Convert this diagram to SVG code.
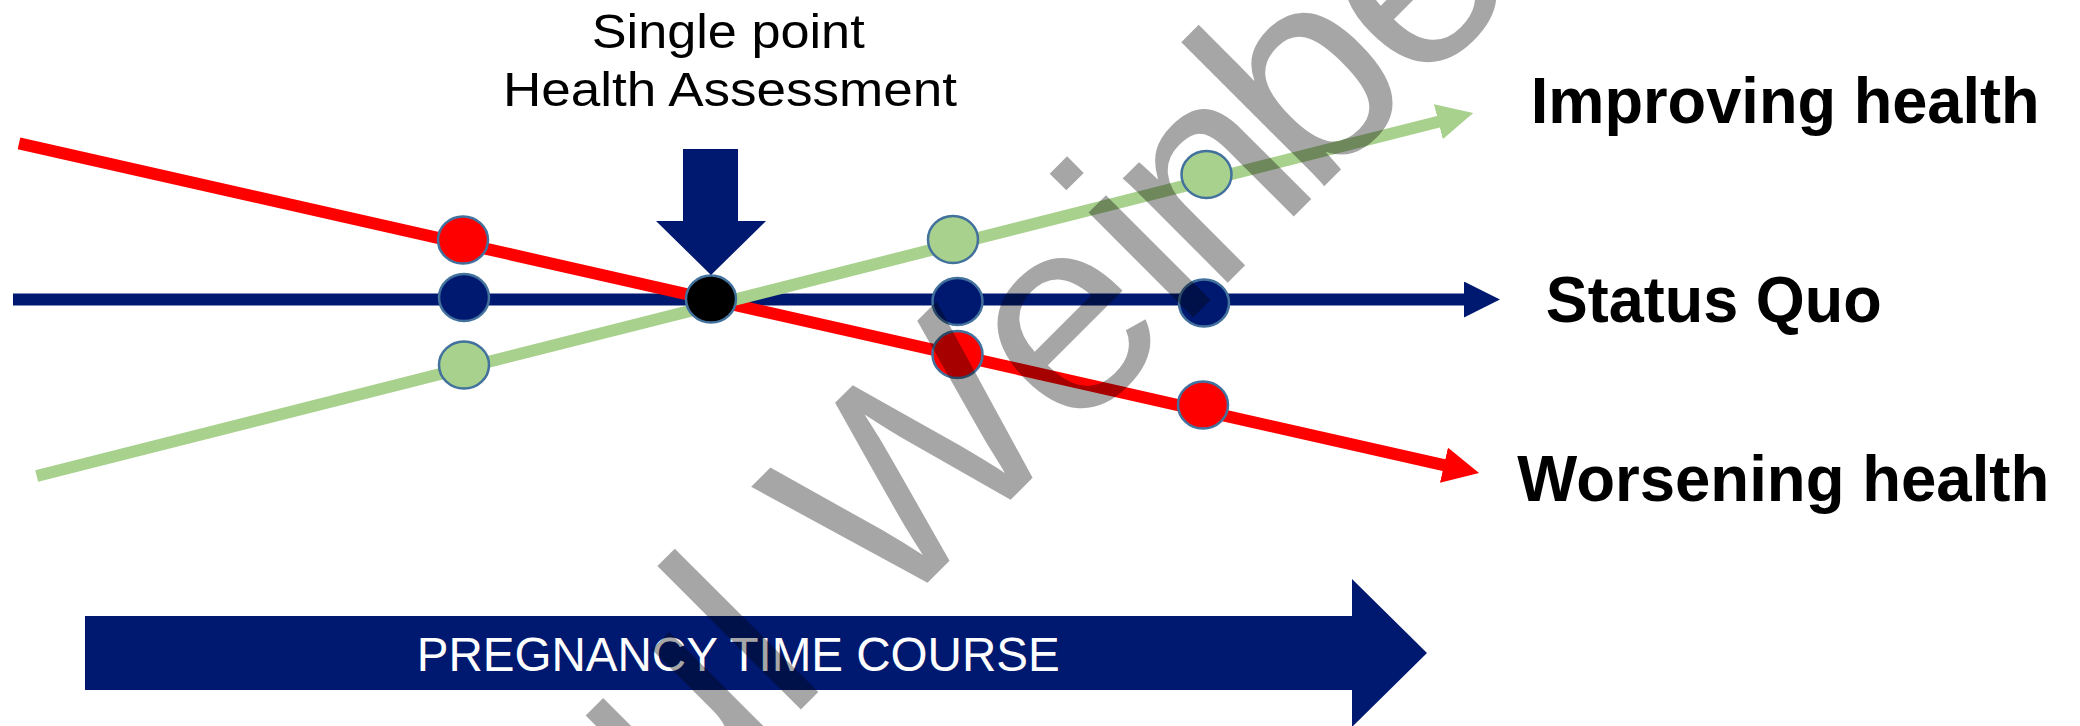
<svg xmlns="http://www.w3.org/2000/svg" width="2080" height="726" viewBox="0 0 2080 726">
  <defs>
    <style>
      .lbl { font-family: "Liberation Sans", Arial, sans-serif; fill: #000; }
      .title { font-size: 48px; }
      .trend { font-size: 65px; font-weight: bold; }
      .dot { stroke: #41719C; stroke-width: 2.5; }
      .trk { fill: none; stroke-width: 12; stroke-linecap: butt; }
      .navy { fill: #001970; }
      .mark { font-family: "Liberation Sans", Arial, sans-serif; font-size: 280px; fill: #000; fill-opacity: 0.35; }
    </style>
    <marker id="headGreen" viewBox="0 0 10 10" refX="0.3" refY="5" markerWidth="3" markerHeight="3" orient="auto">
      <path d="M0,0 L10,5 L0,10 z" fill="#A9D18E"/>
    </marker>
    <marker id="headNavy" viewBox="0 0 10 10" refX="0.3" refY="5" markerWidth="3" markerHeight="3" orient="auto">
      <path d="M0,0 L10,5 L0,10 z" fill="#001970"/>
    </marker>
    <marker id="headRed" viewBox="0 0 10 10" refX="0.3" refY="5" markerWidth="3" markerHeight="3" orient="auto">
      <path d="M0,0 L10,5 L0,10 z" fill="#FF0000"/>
    </marker>
  </defs>

  <rect width="2080" height="726" fill="#FFFFFF"/>

  <!-- trajectories -->
  <g id="connectors">
    <line class="trk" x1="13" y1="299.5" x2="1465" y2="299.5" stroke="#001970" marker-end="url(#headNavy)"/>
    <line class="trk" x1="19" y1="143.3" x2="1445" y2="465.4" stroke="#FF0000" marker-end="url(#headRed)"/>
    <line class="trk" x1="36.7" y1="476" x2="1439.4" y2="121.5" stroke="#A9D18E" marker-end="url(#headGreen)"/>
  </g>

  <!-- measurement points along each trajectory -->
  <g id="point-red-1"><ellipse class="dot" cx="463" cy="240" rx="25" ry="23.5" fill="#FF0000"/></g>
  <g id="point-navy-1"><ellipse class="dot" cx="464" cy="297.5" rx="25" ry="23.5" fill="#001970"/></g>
  <g id="point-green-1"><ellipse class="dot" cx="464" cy="365" rx="25" ry="23.5" fill="#A9D18E"/></g>
  <g id="point-assessment"><ellipse class="dot" cx="711" cy="299" rx="25" ry="23.5" fill="#000000"/></g>
  <g id="point-green-2"><ellipse class="dot" cx="953" cy="239.5" rx="25" ry="23.5" fill="#A9D18E"/></g>
  <g id="point-navy-2"><ellipse class="dot" cx="957.5" cy="301.5" rx="25" ry="23.5" fill="#001970"/></g>
  <g id="point-red-2"><ellipse class="dot" cx="957.5" cy="354.5" rx="25" ry="23.5" fill="#FF0000"/></g>
  <g id="point-green-3"><ellipse class="dot" cx="1206.5" cy="174.5" rx="25" ry="23.5" fill="#A9D18E"/></g>
  <g id="point-navy-3"><ellipse class="dot" cx="1204" cy="303" rx="25" ry="23.5" fill="#001970"/></g>
  <g id="point-red-3"><ellipse class="dot" cx="1203" cy="405" rx="25" ry="23.5" fill="#FF0000"/></g>

  <!-- single assessment marker -->
  <g id="assessment-arrow">
    <polygon class="navy" points="683,149 738,149 738,221 766,221 711,275 656,221 683,221"/>
  </g>
  <g id="assessment-label">
    <text class="lbl title" x="591.7" y="48.3" textLength="273" lengthAdjust="spacingAndGlyphs">Single point</text>
    <text class="lbl title" x="503" y="106" textLength="454" lengthAdjust="spacingAndGlyphs">Health Assessment</text>
  </g>

  <!-- trend labels -->
  <g id="label-improving">
    <text class="lbl trend" x="1530.7" y="123.3" textLength="509" lengthAdjust="spacingAndGlyphs">Improving health</text>
  </g>
  <g id="label-status">
    <text class="lbl trend" x="1545.7" y="321.5" textLength="336" lengthAdjust="spacingAndGlyphs">Status Quo</text>
  </g>
  <g id="label-worsening">
    <text class="lbl trend" x="1517.3" y="500.7" textLength="532" lengthAdjust="spacingAndGlyphs">Worsening health</text>
  </g>

  <!-- time axis -->
  <g id="time-axis">
    <polygon class="navy" points="85,616 1352,616 1352,579 1427,653 1352,727 1352,690 85,690"/>
    <text x="416.7" y="671" font-family="Liberation Sans, Arial, sans-serif" font-size="48" fill="#FFFFFF" textLength="643" lengthAdjust="spacingAndGlyphs">PREGNANCY TIME COURSE</text>
  </g>

  <!-- translucent diagonal watermark -->
  <g id="watermark">
    <text class="mark" transform="rotate(-45)" x="-110" y="1068">ul Wei<tspan dx="-14">n</tspan><tspan dx="-18">b</tspan><tspan dx="-8">e</tspan></text>
  </g>
</svg>
